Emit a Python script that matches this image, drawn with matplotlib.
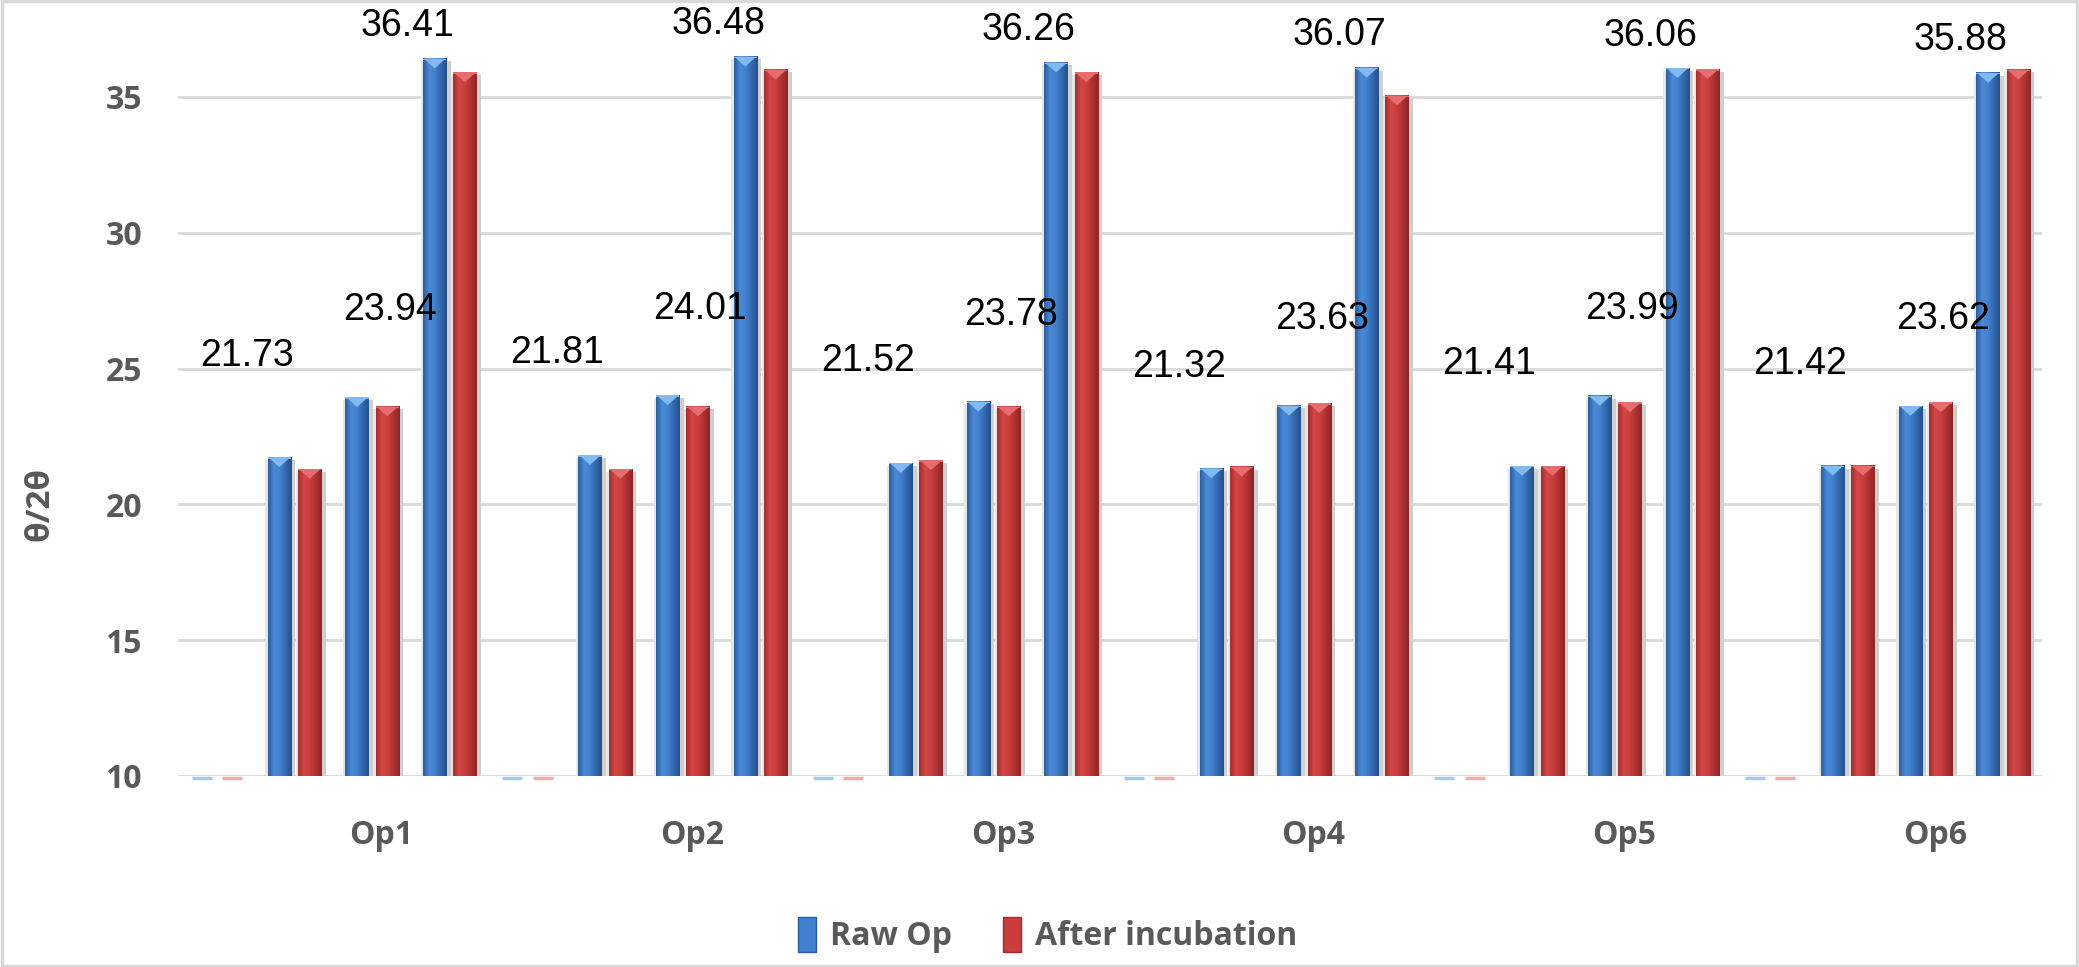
import numpy as np
import matplotlib
matplotlib.use('Agg')
import matplotlib.pyplot as plt
from matplotlib.patches import Polygon, Rectangle, Patch
from matplotlib.colors import LinearSegmentedColormap

# ---------------- data ----------------
groups = ['Op1', 'Op2', 'Op3', 'Op4', 'Op5', 'Op6']
slots_per_group = 4
series_names = ['Raw Op', 'After incubation']
raw_op = [0, 21.73, 23.94, 36.41,
          0, 21.81, 24.01, 36.48,
          0, 21.52, 23.78, 36.26,
          0, 21.32, 23.63, 36.07,
          0, 21.41, 23.99, 36.06,
          0, 21.42, 23.62, 35.88]
after_incubation = [0, 21.30, 23.60, 35.90,
                    0, 21.30, 23.60, 36.00,
                    0, 21.62, 23.60, 35.90,
                    0, 21.38, 23.72, 35.05,
                    0, 21.41, 23.75, 36.02,
                    0, 21.42, 23.75, 36.00]
y_ticks = [10, 15, 20, 25, 30, 35]

# ---------------- style ----------------
W, H = 2079, 967
fig = plt.figure(figsize=(W / 100, H / 100), dpi=100)
ax = fig.add_axes([178 / W, 1 - 776 / H, (2042 - 178) / W, 0.7725])

ymin, ymax = 10, 37.5
n = len(raw_op)
x = np.arange(n)
bw = 0.30
off = 0.195

blue_cmap = LinearSegmentedColormap.from_list(
    'b', ['#2b5c9e', '#4a8ad6', '#4281cf', '#3168ad', '#25508a'])
red_cmap = LinearSegmentedColormap.from_list(
    'r', ['#a52d2d', '#d44747', '#cb3d3d', '#ae3232', '#8c2626'])
bevel = {'b': '#80baf0', 'r': '#e66d6d'}
zero_col = {'b': '#a9c9ea', 'r': '#eab0b0'}
grad = np.linspace(0, 1, 64).reshape(1, -1)

series = [(raw_op, -off, blue_cmap, 'b'), (after_incubation, off, red_cmap, 'r')]
for vals, dx, cmap, key in series:
    vals = np.asarray(vals, float)
    heights = np.maximum(vals - ymin, 0)
    bars = ax.bar(x + dx, heights, bw, bottom=ymin, color='none',
                  edgecolor='none', zorder=3)
    for xi, v, b in zip(x + dx, vals, bars):
        x0, x1 = xi - bw / 2, xi + bw / 2
        if v <= ymin:
            ax.plot([x0 + 0.02, x1 - 0.02], [ymin - 0.08, ymin - 0.08],
                    color=zero_col[key], lw=2.5, zorder=3, clip_on=False,
                    solid_capstyle='butt')
            continue
        # shadow
        ax.add_patch(Rectangle((x1, ymin), 0.055, v - ymin - 0.1,
                               facecolor='#cfcfcf', edgecolor='none', zorder=2))
        ax.add_patch(Rectangle((x0 - 0.03, ymin), 0.03, v - ymin - 0.1,
                               facecolor='#e6e6e6', edgecolor='none', zorder=2))
        ax.imshow(grad, cmap=cmap, extent=[x0, x1, ymin, v], aspect='auto',
                  interpolation='bicubic', zorder=3)
        d = 0.36
        ax.add_patch(Polygon([[x0 + 0.01, v], [x1 - 0.01, v], [xi, v - d]],
                             closed=True, facecolor=bevel[key],
                             edgecolor='none', zorder=4))
        ax.add_patch(Rectangle((x0, v - 0.05), bw, 0.05,
                               facecolor=bevel[key], edgecolor='none', zorder=4))

# data labels on Raw Op bars
lab_dx = [0, -0.42, 0.42, -0.35]
lab_dy = [0, 3.75, 3.2, 1.2]
for i, v in enumerate(raw_op):
    k = i % slots_per_group
    if v <= ymin:
        continue
    ax.text(i - off + lab_dx[k], v + lab_dy[k], f'{v:.2f}', ha='center',
            va='center', fontsize=27, family='Liberation Sans', color='black',
            clip_on=False, zorder=6)

ax.set_xlim(-0.5, n - 0.5)
ax.set_ylim(ymin, ymax)
ax.set_yticks(y_ticks)
ax.set_yticklabels([str(t) for t in y_ticks])
ax.set_xticks([g * slots_per_group + 2.12 for g in range(len(groups))])
ax.set_xticklabels(groups)
for lab in ax.get_xticklabels() + ax.get_yticklabels():
    lab.set_fontfamily('Open Sans')
    lab.set_fontweight('bold')
    lab.set_fontsize(23)
    lab.set_color('#595959')
ax.tick_params(axis='y', length=0, pad=26)
ax.tick_params(axis='x', length=0, pad=31)
ax.yaxis.grid(True, color='#d9d9d9', lw=2)
ax.set_axisbelow(True)
for s in ax.spines.values():
    s.set_visible(False)

fig.text(40 / W, 1 - 504 / H, 'θ/2θ', rotation=90, ha='center', va='center',
         fontsize=24, fontweight='bold', color='#595959', family='Open Sans')

handles = [Patch(facecolor='#4281cf', edgecolor='#2b5c9e'),
           Patch(facecolor='#cb3d3d', edgecolor='#a52d2d')]
fig.legend(handles, series_names, loc='center', bbox_to_anchor=(0.504, 1 - 935 / H),
           ncol=2, frameon=False,
           prop=dict(family='Open Sans', weight='bold', size=23),
           labelcolor='#595959', handlelength=0.55, handleheight=1.3,
           handletextpad=0.45, columnspacing=1.6)

fig.patches.append(Rectangle((0.0008, 0.0012), 0.9984, 0.9976, transform=fig.transFigure,
                             fill=False, edgecolor='#d9d9d9', lw=2.5))

fig.savefig('out.png', dpi=100)
